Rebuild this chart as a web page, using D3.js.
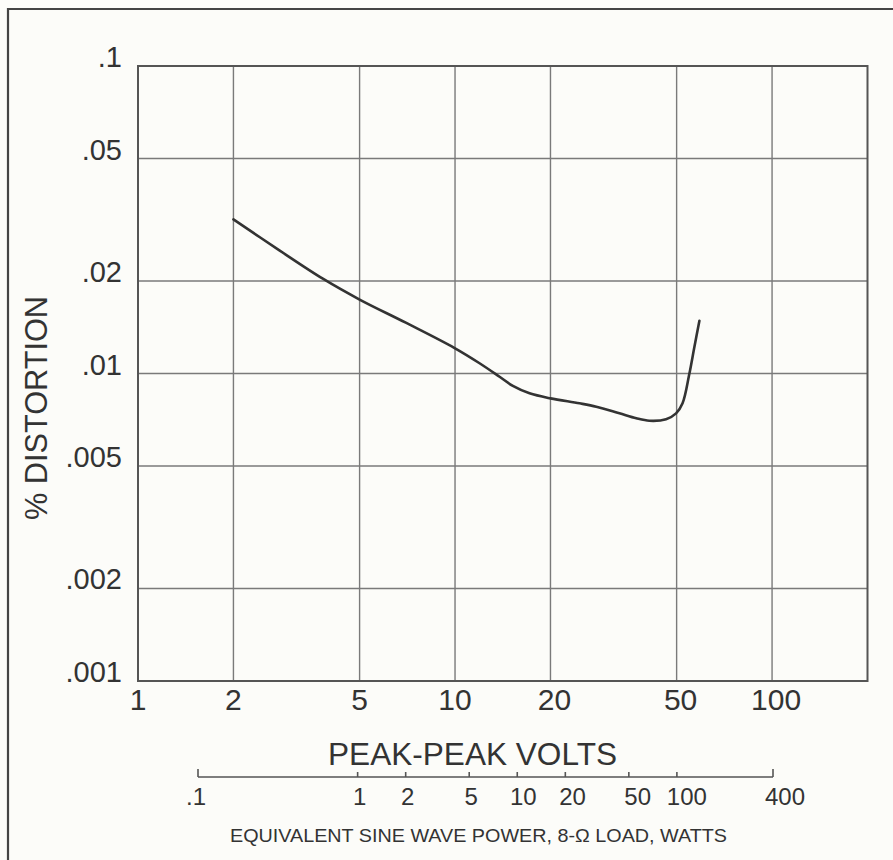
<!DOCTYPE html>
<html><head><meta charset="utf-8">
<script src="https://cdn.jsdelivr.net/npm/d3@7"></script>
<style>
html,body{margin:0;padding:0;background:#fcfcf9;}
svg{display:block;}
text{font-family:"Liberation Sans",Arial,sans-serif;fill:#333;}
</style></head>
<body>
<svg id="c" width="893" height="860"></svg>
<script>
// Primary x axis: peak-peak volts
const xTicks = [1, 2, 5, 10, 20, 50, 100];
const xTickLabels = ["1", "2", "5", "10", "20", "50", "100"];
// Y axis: % distortion
const yTicks = [0.1, 0.05, 0.02, 0.01, 0.005, 0.002, 0.001];
const yTickLabels = [".1", ".05", ".02", ".01", ".005", ".002", ".001"];
// Secondary axis: equivalent sine-wave power (watts)
const wTicks = [0.1, 1, 2, 5, 10, 20, 50, 100, 400];
const wTickLabels = [".1", "1", "2", "5", "10", "20", "50", "100", "400"];
// Curve: volts vs % distortion
const volts = [2.0, 2.8, 3.84, 5.0, 7.02, 9.97, 11.95, 13.82, 15.22, 17.18, 20.0, 24.7, 27.9, 33.0, 37.3, 41.0, 46.3, 49.8, 52.2, 54.8, 56.9, 59.0];
const distortion = [0.0317, 0.0251, 0.0203, 0.0174, 0.0146, 0.0121, 0.0108, 0.00976, 0.00911, 0.00862, 0.00830, 0.00800, 0.00780, 0.00742, 0.00715, 0.00702, 0.00710, 0.00742, 0.00800, 0.00994, 0.01222, 0.01484];

const svg = d3.select("#c");
const L = 138, R = 867.5, T = 66, B = 681;
const x = d3.scaleLog().domain([1, 200]).range([L, R]);
const y = d3.scaleLog().domain([0.001, 0.1]).range([B, T]);
const w = d3.scaleLog().domain([0.1, 400]).range([198, 773]);

// outer frame (top & left)
svg.append("path").attr("d", "M8,860 L8,9 L893,9")
  .attr("fill", "none").attr("stroke", "#444").attr("stroke-width", 2.2);

// grid
const g = svg.append("g");
g.selectAll(".vx").data(xTicks.filter(v => v > 1)).enter().append("line")
  .attr("x1", d => x(d)).attr("x2", d => x(d)).attr("y1", T).attr("y2", B)
  .attr("stroke", "#7a7a7a").attr("stroke-width", 1.4);
g.selectAll(".hy").data(yTicks.filter(v => v < 0.1 && v > 0.001)).enter().append("line")
  .attr("x1", L).attr("x2", R).attr("y1", d => y(d)).attr("y2", d => y(d))
  .attr("stroke", "#7a7a7a").attr("stroke-width", 1.4);
// plot frame
svg.append("rect").attr("x", L).attr("y", T).attr("width", R - L).attr("height", B - T)
  .attr("fill", "none").attr("stroke", "#555").attr("stroke-width", 2);

// y tick labels
svg.selectAll(".yl").data(yTicks).enter().append("text")
  .attr("x", 122).attr("y", d => y(d) + 1).attr("text-anchor", "end")
  .attr("font-size", 29).text((d, i) => yTickLabels[i]);

// x tick labels
svg.selectAll(".xl").data(xTicks).enter().append("text")
  .attr("x", d => x(d) + (d >= 20 ? 4 : 0)).attr("y", 710).attr("text-anchor", "middle")
  .attr("font-size", 30).text((d, i) => xTickLabels[i]);

// y title
svg.append("text").attr("transform", "translate(47,408) rotate(-90)")
  .attr("text-anchor", "middle").attr("font-size", 31).attr("textLength", 224)
  .attr("lengthAdjust", "spacingAndGlyphs").text("% DISTORTION");

// x title
svg.append("text").attr("x", 328).attr("y", 765).attr("font-size", 31)
  .attr("textLength", 289).attr("lengthAdjust", "spacingAndGlyphs").text("PEAK-PEAK VOLTS");

// secondary axis
const ay = 777;
svg.append("line").attr("x1", w(0.1)).attr("x2", w(400)).attr("y1", ay).attr("y2", ay)
  .attr("stroke", "#555").attr("stroke-width", 1.6);
svg.selectAll(".wt").data(wTicks).enter().append("line")
  .attr("x1", d => w(d)).attr("x2", d => w(d)).attr("y1", ay)
  .attr("y2", d => (d === 0.1 || d === 400) ? ay - 8 : ay - 5)
  .attr("stroke", "#555").attr("stroke-width", 1.6);
svg.selectAll(".wl").data(wTicks).enter().append("text")
  .attr("x", d => w(d) + (d >= 10 ? Math.min(12, 2 + Math.log10(d) * 4) : (d < 1 ? -2 : 2))).attr("y", 805)
  .attr("text-anchor", "middle").attr("font-size", 24).text((d, i) => wTickLabels[i]);
svg.append("text").attr("x", 230).attr("y", 842).attr("font-size", 19)
  .attr("textLength", 497).attr("lengthAdjust", "spacingAndGlyphs")
  .text("EQUIVALENT SINE WAVE POWER, 8-Ω LOAD, WATTS");

// curve
const pts = volts.map((v, i) => [x(v), y(distortion[i])]);
svg.append("path").attr("d", d3.line().curve(d3.curveCatmullRom.alpha(0.5))(pts))
  .attr("fill", "none").attr("stroke", "#333").attr("stroke-width", 2.6)
  .attr("stroke-linecap", "round").attr("stroke-linejoin", "round");
</script>
</body></html>
